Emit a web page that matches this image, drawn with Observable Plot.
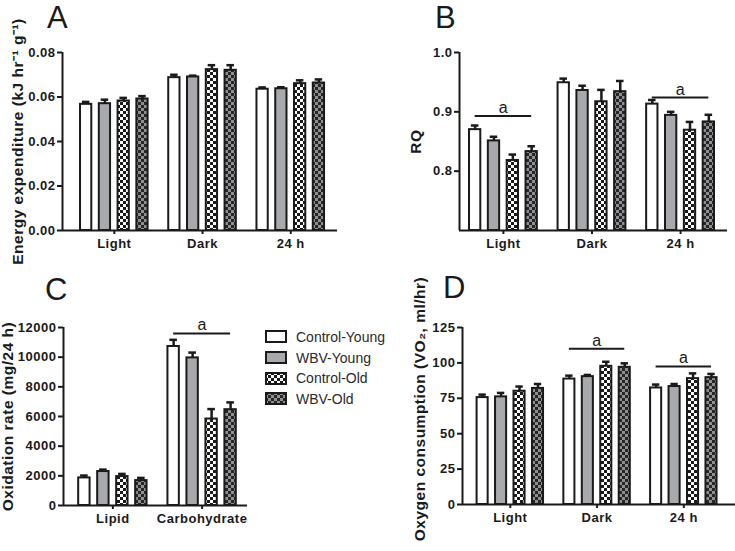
<!DOCTYPE html>
<html><head><meta charset="utf-8">
<script src="https://cdn.jsdelivr.net/npm/d3@7"></script>
<script src="https://cdn.jsdelivr.net/npm/@observablehq/plot@0.6"></script>
<style>
body{margin:0;background:#fff;}
#fig{position:relative;width:735px;height:551px;overflow:hidden;font-family:"Liberation Sans",Arial,sans-serif;background:#fff;}
#legend{position:absolute;left:265px;top:326.5px;font-size:14px;color:#2a2a2a;font-family:"Liberation Sans",Arial,sans-serif;}
#legend .row{display:flex;align-items:center;height:20.7px;white-space:nowrap;}
#legend svg{margin-right:9px;display:block}
</style></head><body>
<svg width="0" height="0" style="position:absolute"><defs>
<pattern id="chkW" width="6" height="6" patternUnits="userSpaceOnUse"><rect width="6" height="6" fill="#ffffff"/><rect width="3" height="3" fill="#1a1a1a"/><rect x="3" y="3" width="3" height="3" fill="#1a1a1a"/></pattern>
<pattern id="chkG" width="6" height="6" patternUnits="userSpaceOnUse"><rect width="6" height="6" fill="#8f9093"/><rect width="3" height="3" fill="#262626"/><rect x="3" y="3" width="3" height="3" fill="#262626"/></pattern>
</defs></svg>
<div id="fig"></div>
<script>
// ---- data ----
const series = ["Control-Young", "WBV-Young", "Control-Old", "WBV-Old"];
const seriesFill = ["#ffffff", "#a7a9ac", "url(#chkW)", "url(#chkG)"];
const periods = ["Light", "Dark", "24 h"];
const substrates = ["Lipid", "Carbohydrate"];

const eeMean = [[0.0567, 0.0570, 0.0582, 0.0591], [0.0687, 0.0690, 0.0723, 0.0720], [0.0635, 0.0637, 0.0660, 0.0663]];
const eeSem  = [[0.0011, 0.0018, 0.0014, 0.0013], [0.0013, 0.0006, 0.0020, 0.0023], [0.0008, 0.0007, 0.0015, 0.0016]];
const rqMean = [[0.870, 0.851, 0.818, 0.833], [0.949, 0.936, 0.917, 0.934], [0.913, 0.894, 0.869, 0.883]];
const rqSem  = [[0.007, 0.007, 0.010, 0.009], [0.007, 0.008, 0.020, 0.018], [0.007, 0.006, 0.014, 0.012]];
const oxMean = [[1860, 2290, 1950, 1680], [10720, 9950, 5830, 6460]];
const oxSem  = [[160, 130, 180, 180], [450, 360, 670, 490]];
const vo2Mean = [[75.5, 76.0, 80.0, 82.0], [88.6, 90.3, 97.6, 96.9], [82.3, 83.3, 88.9, 89.6]];
const vo2Sem  = [[2.1, 2.8, 3.3, 3.1], [2.4, 1.2, 3.2, 2.8], [2.4, 1.8, 3.7, 2.6]];

const rqSig = [{group: "Light", y: 0.893}, {group: "24 h", y: 0.924}];
const oxSig = [{group: "Carbohydrate", y: 11600}];
const vo2Sig = [{group: "Dark", y: 110}, {group: "24 h", y: 97.5}];

const eeTicks = [0, 0.02, 0.04, 0.06, 0.08];
const rqTicks = [0.8, 0.9, 1.0];
const oxTicks = [0, 2000, 4000, 6000, 8000, 10000, 12000];
const vo2Ticks = [0, 25, 50, 75, 100, 125];

const panelLetters = ["A", "B", "C", "D"];

// ---- drawing ----
const ink = "#1a1a1a";
const fig = document.getElementById("fig");
const G = 4.7, hw = 0.3, cap = 0.2;

function panel(o) {
  const rows = [];
  o.groups.forEach((g, i) => series.forEach((s, j) => rows.push({
    group: g, series: s, pos: i * G + j, mean: o.mean[i][j], top: o.mean[i][j] + o.sem[i][j]
  })));
  const center = g => o.groups.indexOf(g) * G + 1.5;
  const y0 = o.yDomain[0];
  const sig = o.sig || [];
  const chart = Plot.plot({
    width: o.width, height: o.height,
    marginLeft: o.ml, marginRight: o.mr, marginTop: o.mt, marginBottom: o.mb,
    x: {type: "linear", domain: o.xDomain},
    y: {type: "linear", domain: o.yDomain},
    color: {type: "ordinal", domain: series, range: seriesFill},
    style: {fontFamily: "'Liberation Sans', Arial, sans-serif", fontSize: "13px", fontWeight: "bold", letterSpacing: "0.5px", color: ink, background: "transparent", overflow: "visible"},
    marks: [
      Plot.rectY(rows, {x1: d => d.pos - hw, x2: d => d.pos + hw, y1: () => y0, y2: "mean", fill: "series", stroke: ink, strokeWidth: 2}),
      Plot.ruleX(rows, {x: "pos", y1: "mean", y2: "top", stroke: ink, strokeWidth: 2.5}),
      Plot.ruleY(rows, {y: "top", x1: d => d.pos - cap, x2: d => d.pos + cap, stroke: ink, strokeWidth: 2.5}),
      Plot.ruleY(sig, {y: "y", x1: d => center(d.group) - 1.5, x2: d => center(d.group) + 1.5, stroke: ink, strokeWidth: 2}),
      Plot.text(sig, {x: d => center(d.group), y: "y", text: () => "a", lineAnchor: "bottom", dy: -3, fontSize: 16, fontWeight: "normal", fill: ink}),
      Plot.ruleY([y0], {stroke: ink, strokeWidth: 2}),
      Plot.ruleX([o.xDomain[0]], {stroke: ink, strokeWidth: 2}),
      Plot.axisY(o.yTicks, {anchor: "left", tickSize: 5, tickPadding: 2, tickFormat: o.yFormat, label: null, strokeWidth: 2}),
      Plot.axisX(o.groups.map(center), {anchor: "bottom", tickSize: 4, tickPadding: 4, tickFormat: d => o.groups[Math.round((d - 1.5) / G)], label: null, strokeWidth: 2}),
      Plot.text([o.title], {frameAnchor: "left", text: d => d, rotate: -90, dx: o.titleDx, dy: o.titleDy || 0, textAnchor: "middle", lineAnchor: "middle", fontSize: 15.5, fontWeight: "bold", fill: ink})
    ]
  });
  chart.style.position = "absolute";
  chart.style.left = o.left + "px";
  chart.style.top = o.top + "px";
  chart.style.maxWidth = "none";
  fig.appendChild(chart);
}

panel({left: 0, top: 0, width: 367, height: 275, ml: 62, mr: 30, mt: 52, mb: 45,
  groups: periods, mean: eeMean, sem: eeSem, xDomain: [-1.26, 13.39], yDomain: [0, 0.08],
  yTicks: eeTicks, yFormat: d => d.toFixed(2), title: "Energy expenditure (kJ hr\u207B\u00B9 g\u207B\u00B9)", titleDx: -44});

panel({left: 367, top: 0, width: 368, height: 275, ml: 92, mr: 8, mt: 52, mb: 45,
  groups: periods, mean: rqMean, sem: rqSem, sig: rqSig, xDomain: [-0.83, 13.39], yDomain: [0.7, 1.0],
  yTicks: rqTicks, yFormat: d => d.toFixed(1), title: "RQ", titleDx: -43});

panel({left: 0, top: 275, width: 367, height: 276, ml: 63, mr: 120, mt: 52, mb: 46,
  groups: substrates, mean: oxMean, sem: oxSem, sig: oxSig, xDomain: [-1.1, 8.59], yDomain: [0, 12000],
  yTicks: oxTicks, yFormat: d => String(d), title: "Oxidation rate (mg/24 h)", titleDx: -55});

panel({left: 367, top: 275, width: 368, height: 276, ml: 95, mr: 0, mt: 52, mb: 47,
  groups: periods, mean: vo2Mean, sem: vo2Sem, sig: vo2Sig, xDomain: [-1.09, 13.7], yDomain: [0, 125],
  yTicks: vo2Ticks, yFormat: d => String(d), title: "Oxygen consumption (VO\u2082, ml/hr)", titleDx: -42, titleDy: -7});

// legend
const legend = document.createElement("div");
legend.id = "legend";
series.forEach((s, j) => {
  const row = document.createElement("div");
  row.className = "row";
  row.innerHTML = `<svg width="22" height="13"><rect x="1" y="1" width="20" height="11" fill="${seriesFill[j]}" stroke="${ink}" stroke-width="2"/></svg><span>${s}</span>`;
  legend.appendChild(row);
});
fig.appendChild(legend);

// panel letters
const NS = "http://www.w3.org/2000/svg";
const over = document.createElementNS(NS, "svg");
over.setAttribute("width", 735); over.setAttribute("height", 551);
over.style.position = "absolute"; over.style.left = "0"; over.style.top = "0"; over.style.pointerEvents = "none";
const letterPos = [[47, 28], [435, 28], [45, 300], [443, 298]];
panelLetters.forEach((L, k) => {
  const t = document.createElementNS(NS, "text");
  t.setAttribute("x", letterPos[k][0]); t.setAttribute("y", letterPos[k][1]);
  t.setAttribute("font-size", 31); t.setAttribute("fill", ink);
  t.setAttribute("font-family", "'Liberation Sans', Arial, sans-serif");
  t.textContent = L;
  over.appendChild(t);
});
fig.appendChild(over);
</script>
</body></html>
